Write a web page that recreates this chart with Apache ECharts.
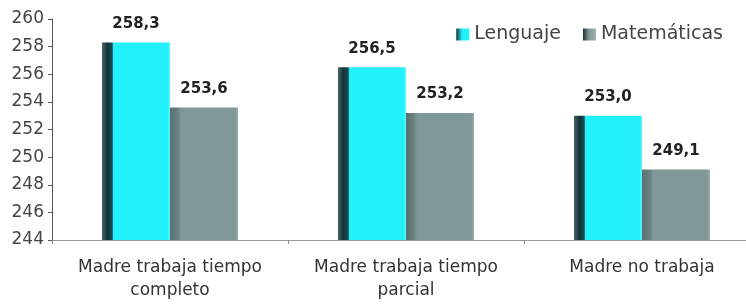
<!DOCTYPE html>
<html>
<head>
<meta charset="utf-8">
<script src="https://cdn.jsdelivr.net/npm/echarts@6/dist/echarts.min.js"></script>
<style>
  html, body { margin: 0; padding: 0; background: #fff; }
  #chart { width: 746px; height: 304px; }
</style>
</head>
<body>
<div id="chart"></div>
<script>
const categories = ['Madre trabaja tiempo\ncompleto', 'Madre trabaja tiempo\nparcial', 'Madre no trabaja'];
const lenguaje = [258.3, 256.5, 253.0];
const matematicas = [253.6, 253.2, 249.1];
const seriesNames = ['Lenguaje', 'Matemáticas'];

const chart = echarts.init(document.getElementById('chart'));

// efecto 3D: borde oscuro a la izquierda de cada barra
const cyanFill = new echarts.graphic.LinearGradient(0, 0, 1, 0, [
  { offset: 0, color: '#4a6468' },
  { offset: 0.08, color: '#10333a' },
  { offset: 0.15, color: '#1e4a52' },
  { offset: 0.17, color: '#22f0fa' },
  { offset: 0.96, color: '#22f0fa' },
  { offset: 1, color: '#5ff6fc' }
]);
const grayFill = new echarts.graphic.LinearGradient(0, 0, 1, 0, [
  { offset: 0, color: '#5a7070' },
  { offset: 0.12, color: '#6a8282' },
  { offset: 0.16, color: '#809898' },
  { offset: 0.96, color: '#809898' },
  { offset: 1, color: '#9ab0b0' }
]);
const cyanIcon = new echarts.graphic.LinearGradient(0, 0, 1, 0, [
  { offset: 0, color: '#10333a' },
  { offset: 0.45, color: '#22f0fa' },
  { offset: 1, color: '#22f0fa' }
]);
const grayIcon = new echarts.graphic.LinearGradient(0, 0, 1, 0, [
  { offset: 0, color: '#1e2a2a' },
  { offset: 0.45, color: '#809898' },
  { offset: 1, color: '#9ab0b0' }
]);

const FONT = 'DejaVu Sans, sans-serif';

const labelStyle = {
  show: true,
  position: 'top',
  distance: 11,
  fontFamily: FONT,
  fontSize: 15,
  fontWeight: 'bold',
  color: '#222',
  formatter: p => p.value.toFixed(1).replace('.', ',')
};

chart.setOption({
  animation: false,
  legend: {
    top: 20,
    right: 18,
    icon: 'rect',
    itemWidth: 13,
    itemHeight: 12,
    itemGap: 22,
    textStyle: { fontFamily: FONT, fontSize: 19, color: '#444' },
    data: [
      { name: seriesNames[0], itemStyle: { color: cyanIcon } },
      { name: seriesNames[1], itemStyle: { color: grayIcon } }
    ]
  },
  grid: { left: 52, right: -14, top: 19, bottom: 64, outerBoundsMode: 'none' },
  xAxis: {
    type: 'category',
    data: categories,
    axisLine: { lineStyle: { color: '#999' } },
    axisTick: { show: true, interval: 0, length: 4, lineStyle: { color: '#888' } },
    axisLabel: {
      interval: 0,
      hideOverlap: false,
      fontFamily: FONT,
      fontSize: 17,
      color: '#333',
      margin: 16,
      lineHeight: 23
    }
  },
  yAxis: {
    type: 'value',
    min: 244,
    max: 260,
    interval: 2,
    splitLine: { show: false },
    axisLine: { show: true, lineStyle: { color: '#555' } },
    axisTick: { show: true, length: 4, lineStyle: { color: '#555' } },
    axisLabel: {
      fontFamily: FONT,
      fontSize: 17,
      color: '#444',
      margin: 8
    }
  },
  series: [
    {
      name: seriesNames[0],
      type: 'bar',
      data: lenguaje,
      barWidth: 68,
      barGap: '0%',
      itemStyle: { color: cyanFill },
      label: labelStyle
    },
    {
      name: seriesNames[1],
      type: 'bar',
      data: matematicas,
      barWidth: 68,
      itemStyle: { color: grayFill },
      label: labelStyle
    }
  ]
});
</script>
</body>
</html>
